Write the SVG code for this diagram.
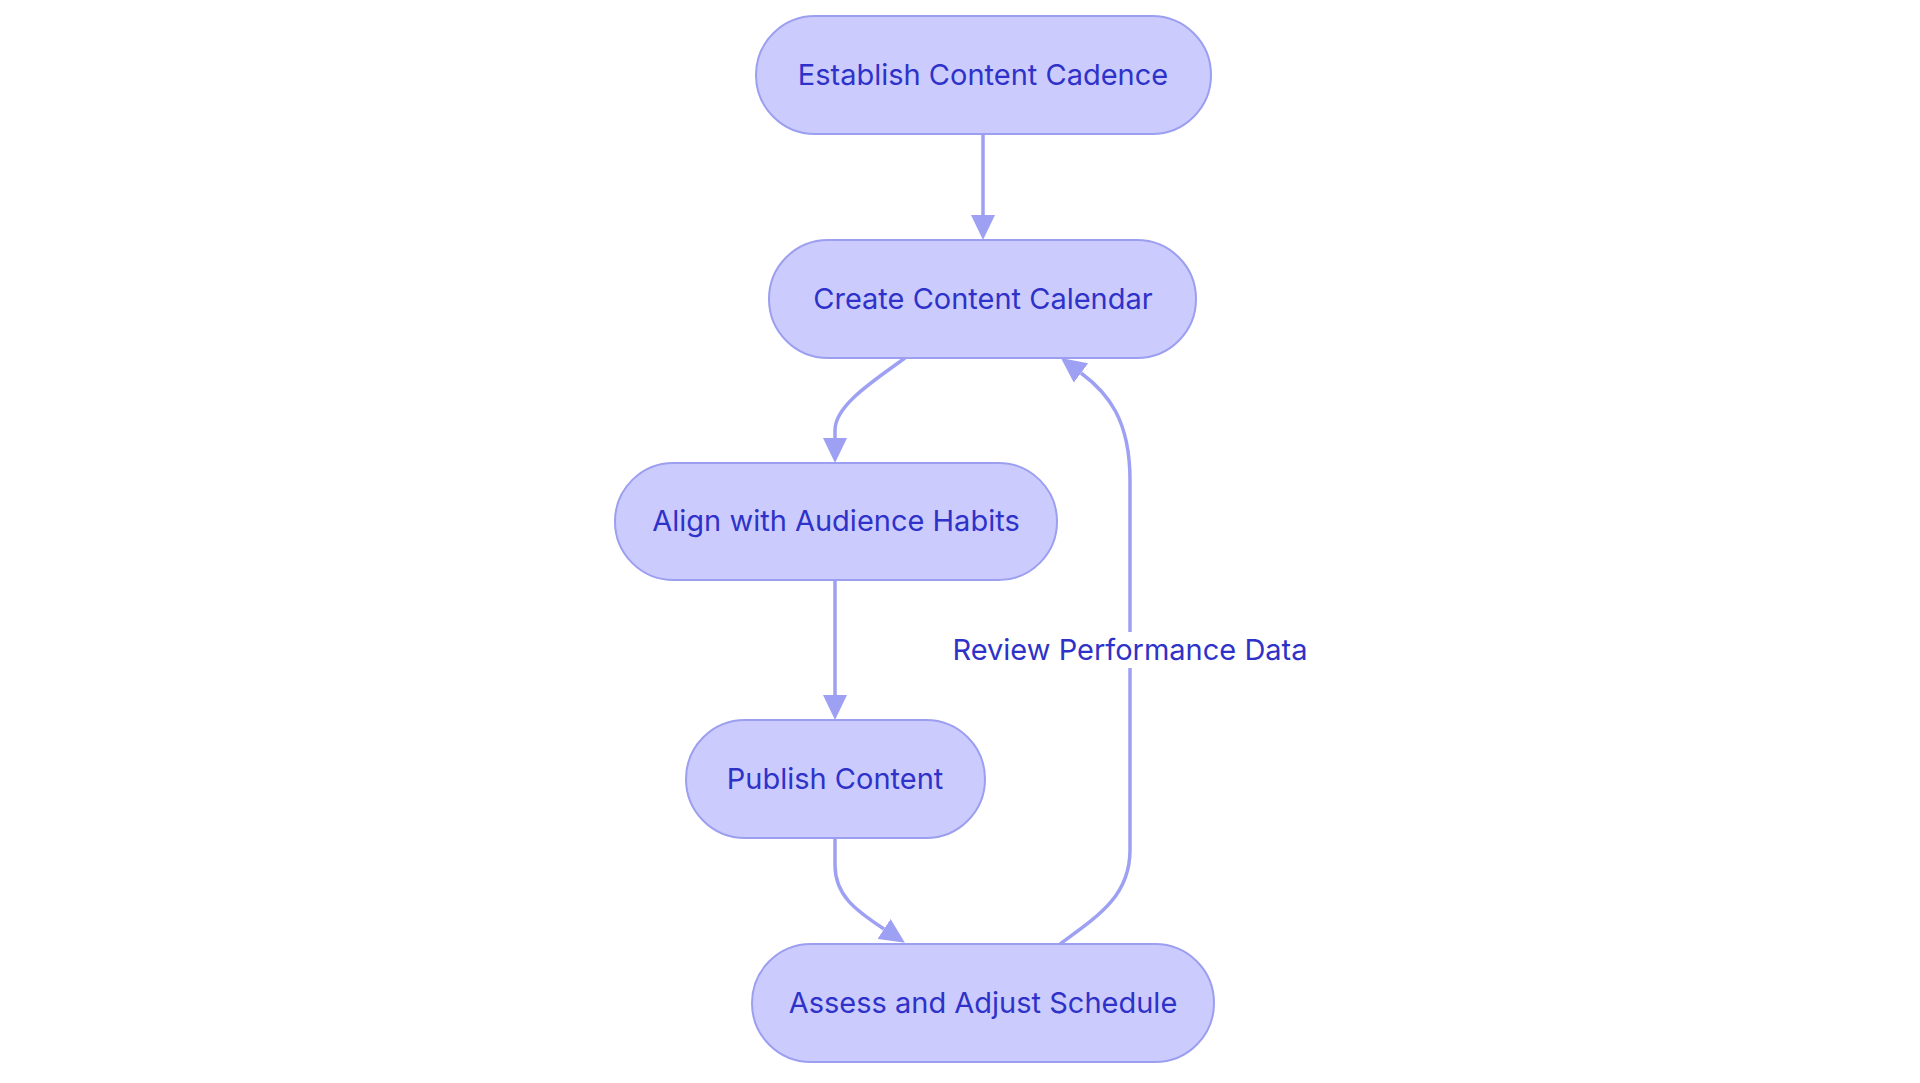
<svg xmlns="http://www.w3.org/2000/svg" width="1920" height="1083" viewBox="0 0 1920 1083">
<style>
.node rect{fill:#CBCCFD;stroke:#9C9FF0;stroke-width:2}
.node text,.lbl text{font-family:Inter,"Open Sans","Liberation Sans",sans-serif;font-size:29px;fill:#2F32C8;text-anchor:middle}
.edge{fill:none;stroke:#9EA1F3;stroke-width:3.5}
</style>
<defs>
<marker id="arr" markerUnits="userSpaceOnUse" markerWidth="25" markerHeight="24" viewBox="0 0 25 24" refX="0" refY="12" orient="auto">
<path d="M0,0 L25,12 L0,24 z" fill="#9EA1F3"/>
</marker>
</defs>
<rect width="1920" height="1083" fill="#ffffff"/>
<g id="connectors">
<path class="edge" d="M983,135 L983,215" marker-end="url(#arr)"/>
<path class="edge" d="M905,358 C875,380 835,405 835,430 L835,438" marker-end="url(#arr)"/>
<path class="edge" d="M835,580 L835,695" marker-end="url(#arr)"/>
<path class="edge" d="M835,838 L835,865 C835,895 855,910 884,929" marker-end="url(#arr)"/>
<path class="edge" d="M1060,944 C1100,915 1130,895 1130,850 L1130,480 C1130,420 1108,393 1081,373" marker-end="url(#arr)"/>
<g class="lbl" id="label-review">
<rect x="952" y="632" width="357" height="36" fill="#ffffff"/>
<text x="1130" y="660">Review Performance Data</text>
</g>
</g>
<g id="node-establish" class="node">
<rect x="756" y="16" width="455" height="118" rx="59" ry="59"/>
<text x="983" y="85">Establish Content Cadence</text>
</g>
<g id="node-calendar" class="node">
<rect x="769" y="240" width="427" height="118" rx="59" ry="59"/>
<text x="983" y="309">Create Content Calendar</text>
</g>
<g id="node-align" class="node">
<rect x="615" y="463" width="442" height="117" rx="58.5" ry="58.5"/>
<text x="836" y="531">Align with Audience Habits</text>
</g>
<g id="node-publish" class="node">
<rect x="686" y="720" width="299" height="118" rx="59" ry="59"/>
<text x="835" y="789">Publish Content</text>
</g>
<g id="node-assess" class="node">
<rect x="752" y="944" width="462" height="118" rx="59" ry="59"/>
<text x="983" y="1013">Assess and Adjust Schedule</text>
</g>
</svg>
